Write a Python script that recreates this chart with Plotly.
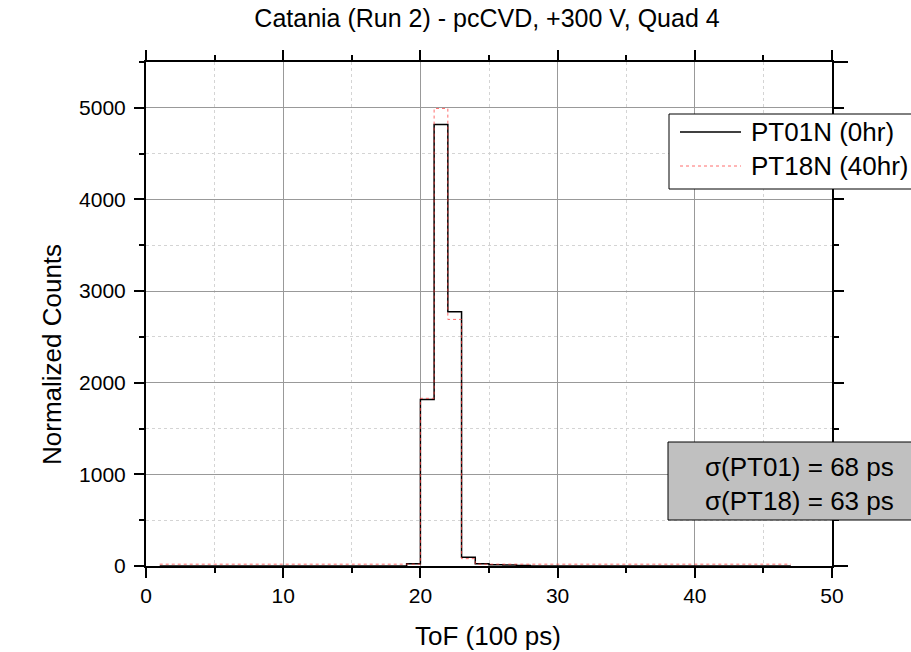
import plotly.graph_objects as go

# ---- data ----
bin_left = list(range(1, 47))  # bin left edges, width 1 (units of 100 ps)
pt01_counts = [0]*18 + [25, 1818, 4819, 2775, 95, 25, 15, 10, 5] + [0]*19
pt18_counts = [20]*18 + [20, 1830, 4993, 2691, 80, 20, 20, 20, 20] + [20]*19
series_names = ["PT01N (0hr)", "PT18N (40hr)"]
series_colors = ["black", "rgba(255,60,60,0.75)"]
series_dash = ["solid", "dot"]
series_width = [1.5, 1]
sigma_text = ["σ(PT01) = 68 ps", "σ(PT18) = 63 ps"]
title_text = "Catania (Run 2) - pcCVD, +300 V, Quad 4"

FONT = "Liberation Sans, Arial, sans-serif"

def steps(lefts, vals):
    xs = list(lefts) + [lefts[-1] + 1]
    ys = list(vals) + [vals[-1]]
    return xs, ys

fig = go.Figure()
for vals, name, col, dash, w in zip([pt01_counts, pt18_counts], series_names,
                                    series_colors, series_dash, series_width):
    xs, ys = steps(bin_left, vals)
    fig.add_trace(go.Scatter(x=xs, y=ys, mode="lines", line_shape="hv",
                             line=dict(color=col, width=w, dash=dash), name=name,
                             showlegend=False))

L, R, T, B = 146, 79, 62, 86
W, H = 911, 652
pw = W - L - R
ph = H - T - B

def px2x(px):
    return (px - L) / pw

def py2y(py):
    return (H - B - py) / ph

axis_common = dict(showline=True, linecolor="black", linewidth=2, mirror="ticks",
                   ticks="outside", ticklen=10, tickwidth=2, tickcolor="black",
                   showgrid=True, gridcolor="#999999", gridwidth=1,
                   zeroline=False, tickfont=dict(family=FONT, size=21, color="black"))

fig.update_xaxes(range=[0, 50], dtick=10, tick0=0, ticklabelstandoff=0,
                 minor=dict(dtick=5, ticks="outside", ticklen=5, tickwidth=2, tickcolor="black",
                            showgrid=True, gridcolor="#d4d4d4", griddash="dot", gridwidth=1),
                 **axis_common)
fig.update_yaxes(range=[0, 5500], dtick=1000, tick0=0, ticklabelstandoff=4,
                 minor=dict(dtick=500, ticks="outside", ticklen=5, tickwidth=2, tickcolor="black",
                            showgrid=True, gridcolor="#d4d4d4", griddash="dot", gridwidth=1),
                 **axis_common)

shapes = []
# axis overhangs
over_x = 16 / pw
over_y = 10 / ph
shapes.append(dict(type="line", xref="paper", yref="paper", x0=1, x1=1 + over_x, y0=1, y1=1,
                   line=dict(color="black", width=2)))
shapes.append(dict(type="line", xref="paper", yref="paper", x0=1, x1=1 + over_x, y0=0, y1=0,
                   line=dict(color="black", width=2)))
shapes.append(dict(type="line", xref="paper", yref="paper", x0=0, x1=0, y0=1, y1=1 + over_y,
                   line=dict(color="black", width=2)))
shapes.append(dict(type="line", xref="paper", yref="paper", x0=1, x1=1, y0=1, y1=1 + over_y,
                   line=dict(color="black", width=2)))
# legend box
shapes.append(dict(type="rect", xref="paper", yref="paper", layer="above",
                   x0=px2x(669), x1=px2x(960), y0=py2y(189), y1=py2y(114),
                   fillcolor="white", line=dict(color="black", width=1)))
# sigma box
shapes.append(dict(type="rect", xref="paper", yref="paper", layer="above",
                   x0=px2x(668), x1=px2x(960), y0=py2y(520), y1=py2y(442),
                   fillcolor="#c0c0c0", line=dict(color="black", width=1)))

annotations = [
    dict(xref="paper", yref="paper", x=px2x(896), y=py2y(484), xanchor="right", yanchor="middle",
         text="<br>".join(sigma_text), showarrow=False, align="right",
         font=dict(family=FONT, size=26, color="black")),
    dict(xref="paper", yref="paper", x=px2x(52), y=py2y(355), xanchor="center", yanchor="middle",
         text="Normalized Counts", textangle=-90, showarrow=False,
         font=dict(family=FONT, size=26, color="black")),
    dict(xref="paper", yref="paper", x=px2x(488), y=py2y(636), xanchor="center", yanchor="middle",
         text="ToF (100 ps)", showarrow=False,
         font=dict(family=FONT, size=26, color="black")),
]

# manual legend entries
legend_rows = [132, 166]
for name, col, dash, w, ry in zip(series_names, series_colors, series_dash, series_width, legend_rows):
    shapes.append(dict(type="line", xref="paper", yref="paper", layer="above",
                       x0=px2x(680), x1=px2x(741), y0=py2y(ry), y1=py2y(ry),
                       line=dict(color=col, width=w, dash=dash)))
    annotations.append(dict(xref="paper", yref="paper", x=px2x(749), y=py2y(ry),
                            xanchor="left", yanchor="middle", text=name, showarrow=False,
                            font=dict(family=FONT, size=26, color="black")))

fig.update_layout(
    width=W, height=H,
    margin=dict(l=L, r=R, t=T, b=B, autoexpand=False),
    paper_bgcolor="white", plot_bgcolor="white",
    title=dict(text=title_text, x=487 / W, y=1 - 18 / H, xanchor="center", yanchor="middle",
               font=dict(family=FONT, size=25, color="black")),
    showlegend=False,
    shapes=shapes,
    annotations=annotations,
)

fig.write_html("out.html")
